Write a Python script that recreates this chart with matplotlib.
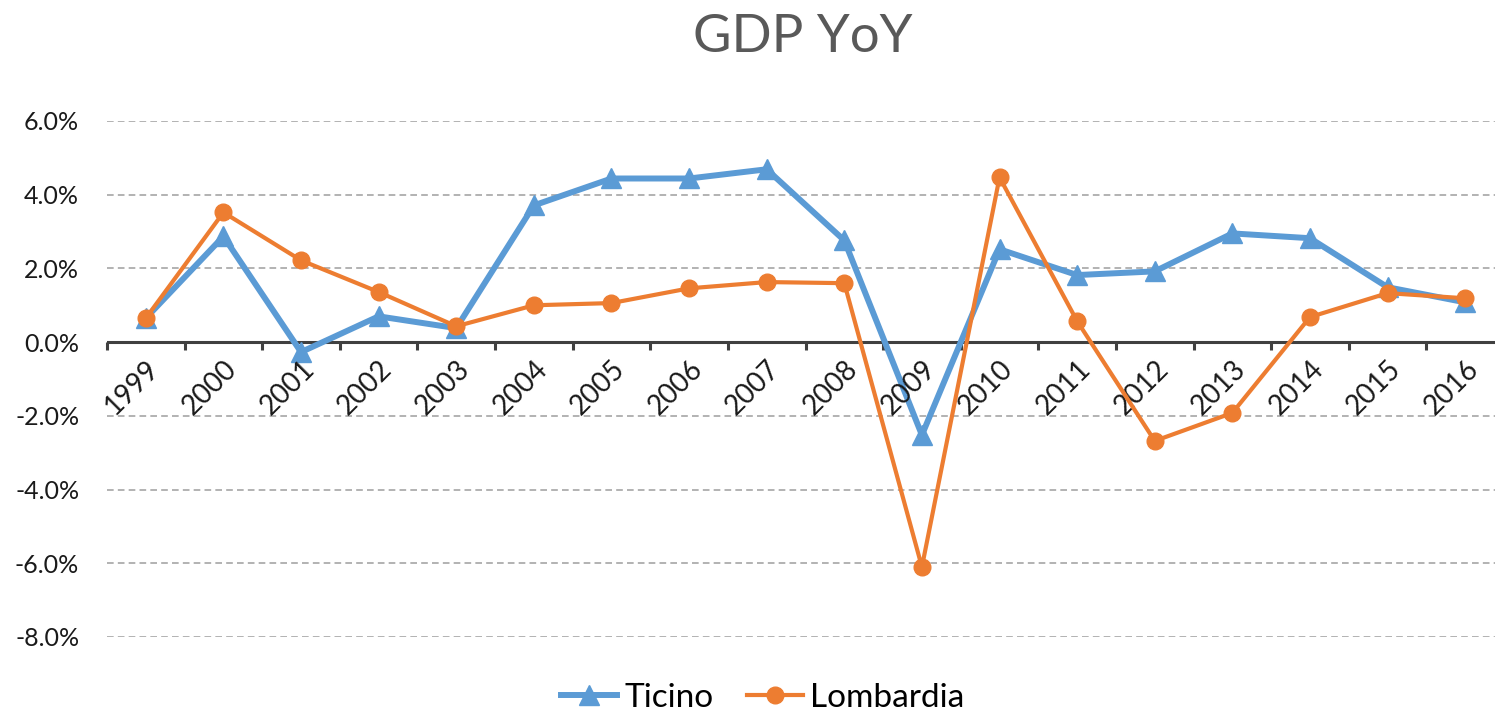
import matplotlib
matplotlib.use("Agg")
import matplotlib.pyplot as plt
from matplotlib.ticker import FuncFormatter

years = ["1999", "2000", "2001", "2002", "2003", "2004", "2005", "2006", "2007",
         "2008", "2009", "2010", "2011", "2012", "2013", "2014", "2015", "2016"]
ticino = [0.65, 2.87, -0.27, 0.70, 0.38, 3.71, 4.44, 4.44, 4.69,
          2.76, -2.52, 2.52, 1.82, 1.92, 2.95, 2.82, 1.49, 1.08]
lombardia = [0.65, 3.52, 2.22, 1.36, 0.43, 1.00, 1.06, 1.46, 1.63,
             1.60, -6.10, 4.47, 0.57, -2.68, -1.92, 0.68, 1.33, 1.19]
yticks = [-8, -6, -4, -2, 0, 2, 4, 6]

plt.rcParams['font.family'] = ['Lato', 'DejaVu Sans']

W, H = 1495, 713
fig = plt.figure(figsize=(W / 100, H / 100), dpi=100)
left = 107 / W
right = 1504 / W
top = 1 - 121 / H
bottom = 1 - 637 / H
ax = fig.add_axes([left, bottom, right - left, top - bottom])

blue = "#5B9BD5"
orange = "#ED7D31"
x = list(range(len(years)))

ax.plot(x, ticino, color=blue, lw=4.3, marker="^", markersize=15,
        label="Ticino", zorder=3, clip_on=False)
ax.plot(x, lombardia, color=orange, lw=3.0, marker="o", markersize=12,
        label="Lombardia", zorder=4, clip_on=False)

ax.set_xlim(-0.5, len(years) - 0.5)
ax.set_ylim(-8, 6)
ax.set_yticks(yticks)
ax.yaxis.set_major_formatter(FuncFormatter(lambda v, p: f"{v:.1f}%"))
for y in yticks:
    if y != 0:
        ax.axhline(y, color="#A6A6A6", lw=1.2, ls=(0, (4, 2.5)), zorder=1)
ax.axhline(0, color="#404040", lw=2.2, zorder=2)

for s in ax.spines.values():
    s.set_visible(False)
ax.tick_params(axis="y", length=0, pad=20, labelsize=18, labelcolor="#1a1a1a")
ax.set_xticks([])

# category boundary ticks on the zero line
for b in range(len(years) + 1):
    ax.plot([b - 0.5, b - 0.5], [0, -0.22], color="#404040", lw=2.2,
            zorder=2, clip_on=False, solid_capstyle="butt")

# rotated year labels below the zero line
for i, yr in enumerate(years):
    ax.text(i + 0.12, -0.62, yr, rotation=45, rotation_mode="anchor",
            ha="right", va="center", fontsize=20, color="#1a1a1a")

fig.text(0.537, 1 - 38 / H, "GDP YoY", ha="center", va="center",
         fontsize=38, color="#595959")

leg = fig.legend(loc="center", bbox_to_anchor=(0.51, 1 - 698 / H), ncol=2,
                 frameon=False, fontsize=24, handlelength=1.7,
                 columnspacing=1.0, handletextpad=0.2)

fig.savefig("out.png", dpi=100)
